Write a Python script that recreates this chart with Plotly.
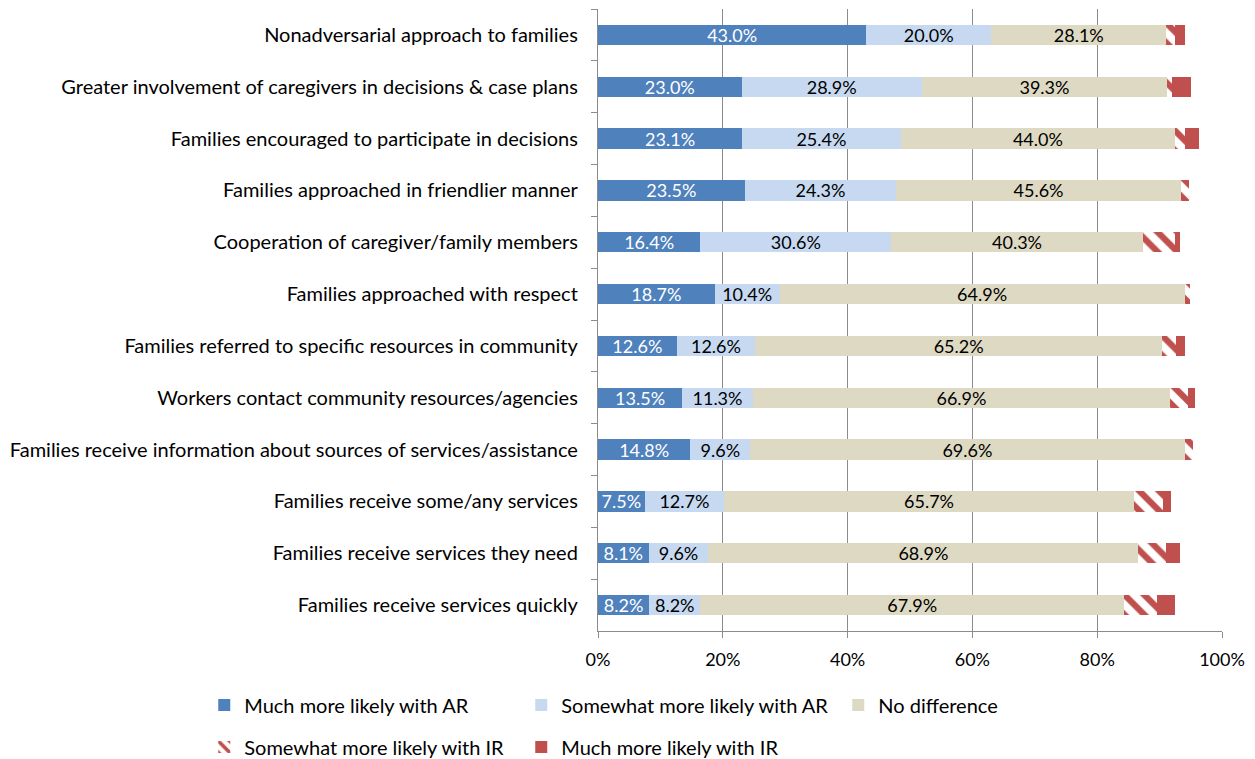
import plotly.graph_objects as go

categories = [
    "Nonadversarial approach to families",
    "Greater involvement of caregivers in decisions & case plans",
    "Families encouraged to participate in decisions",
    "Families approached in friendlier manner",
    "Cooperation of caregiver/family members",
    "Families approached with respect",
    "Families referred to specific resources in community",
    "Workers contact community resources/agencies",
    "Families receive information about sources of services/assistance",
    "Families receive some/any services",
    "Families receive services they need",
    "Families receive services quickly",
]

much_ar = [43.0, 23.0, 23.1, 23.5, 16.4, 18.7, 12.6, 13.5, 14.8, 7.5, 8.1, 8.2]
somewhat_ar = [20.0, 28.9, 25.4, 24.3, 30.6, 10.4, 12.6, 11.3, 9.6, 12.7, 9.6, 8.2]
no_diff = [28.1, 39.3, 44.0, 45.6, 40.3, 64.9, 65.2, 66.9, 69.6, 65.7, 68.9, 67.9]
somewhat_ir = [1.3, 0.8, 1.6, 1.3, 5.1, 0.8, 2.2, 2.9, 1.4, 4.6, 4.4, 5.3]
much_ir = [1.6, 3.0, 2.2, 0.0, 0.8, 0.0, 1.4, 1.0, 0.0, 1.4, 2.2, 2.9]

x_ticks = [0, 20, 40, 60, 80, 100]
x_tick_labels = ["0%", "20%", "40%", "60%", "80%", "100%"]

FONT = "Lato"
LABEL_FS = 20
VALUE_FS = 18
BLUE = "#4F81BD"
LIGHT_BLUE = "#C6D9F1"
TAN = "#DDD9C3"
RED = "#C0504D"
GRID = "#8C8C8C"


def pct(vals):
    return [f"{v:.1f}%" for v in vals]


fig = go.Figure()

fig.add_trace(go.Bar(
    y=categories, x=much_ar, orientation="h", name="Much more likely with AR",
    marker=dict(color=BLUE, line=dict(width=0)),
    text=pct(much_ar), textposition="inside", insidetextanchor="middle",
    textfont=dict(color="white", size=VALUE_FS, family=FONT),
    legend="legend",
))
fig.add_trace(go.Bar(
    y=categories, x=somewhat_ar, orientation="h", name="Somewhat more likely with AR",
    marker=dict(color=LIGHT_BLUE, line=dict(width=0)),
    text=pct(somewhat_ar), textposition="inside", insidetextanchor="middle",
    textfont=dict(color="black", size=VALUE_FS, family=FONT),
    legend="legend",
))
fig.add_trace(go.Bar(
    y=categories, x=no_diff, orientation="h", name="No difference",
    marker=dict(color=TAN, line=dict(width=0)),
    text=pct(no_diff), textposition="inside", insidetextanchor="middle",
    textfont=dict(color="black", size=VALUE_FS, family=FONT),
    legend="legend",
))
fig.add_trace(go.Bar(
    y=categories, x=somewhat_ir, orientation="h", name="Somewhat more likely with IR",
    marker=dict(
        color="white", line=dict(width=0),
        pattern=dict(shape="\\", fgcolor=RED, bgcolor="white",
                     size=14, solidity=0.45, fillmode="replace"),
    ),
    textposition="none",
    legend="legend2",
))
fig.add_trace(go.Bar(
    y=categories, x=much_ir, orientation="h", name="Much more likely with IR",
    marker=dict(color=RED, line=dict(width=0)),
    textposition="none",
    legend="legend2",
))

legend_common = dict(
    orientation="h", xanchor="left", yanchor="middle",
    font=dict(family=FONT, size=LABEL_FS, color="black"),
    entrywidth=272, entrywidthmode="pixels",
    bgcolor="rgba(0,0,0,0)", itemclick=False, itemdoubleclick=False,
    traceorder="normal",
)

fig.update_layout(
    width=1255, height=759,
    margin=dict(l=598, r=33, t=9, b=128, autoexpand=False),
    barmode="stack",
    bargap=0.61,
    plot_bgcolor="white",
    paper_bgcolor="white",
    font=dict(family=FONT, size=VALUE_FS, color="black"),
    uniformtext=dict(minsize=VALUE_FS, mode="show"),
    legend=dict(x=-0.631, y=-0.119, **legend_common),
    legend2=dict(x=-0.631, y=-0.1865, **legend_common),
    xaxis=dict(
        range=[0, 100], tickvals=x_ticks, ticktext=x_tick_labels,
        showgrid=True, gridcolor=GRID, gridwidth=1.3,
        showline=True, linecolor=GRID, linewidth=1.3,
        ticks="outside", ticklen=6, tickcolor=GRID, tickwidth=1.3,
        ticklabelstandoff=6, automargin=False,
        tickfont=dict(family=FONT, size=VALUE_FS, color="black"),
        zeroline=False, fixedrange=True,
    ),
    yaxis=dict(
        categoryorder="array", categoryarray=categories, autorange="reversed",
        showline=True, linecolor=GRID, linewidth=1.3,
        ticks="outside", ticklen=6, tickcolor=GRID, tickwidth=1.3,
        tickson="boundaries", ticklabelstandoff=15, automargin=False,
        tickfont=dict(family=FONT, size=LABEL_FS, color="black"),
        showgrid=False, zeroline=False, fixedrange=True,
    ),
)

fig.write_html("out.html")
